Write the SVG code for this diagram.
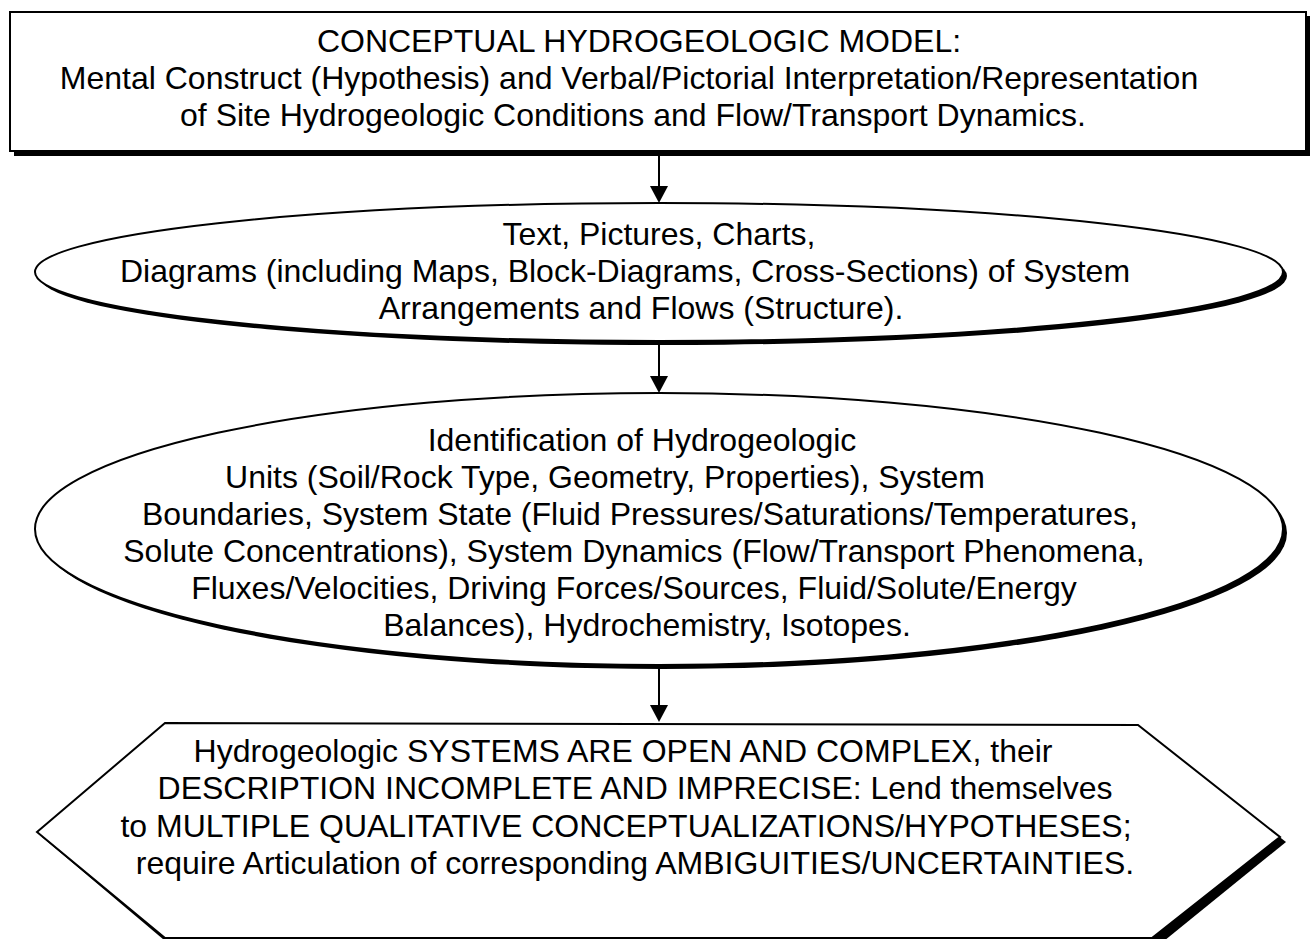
<svg xmlns="http://www.w3.org/2000/svg" width="1316" height="939" viewBox="0 0 1316 939">
<style>
.t{font-family:"Liberation Sans",Arial,sans-serif;font-size:32px;fill:#000;text-anchor:middle}
.sh{fill:#000;stroke:none}
.box{fill:#fff;stroke:#000;stroke-width:2}
.con{stroke:#000;stroke-width:2;fill:none}
.ah{fill:#000}
</style>
<g id="connectors">
<line class="con" x1="659" y1="153" x2="659" y2="187"/>
<path class="ah" d="M650,186 L668,186 L659,203 Z"/>
<line class="con" x1="659" y1="344" x2="659" y2="377"/>
<path class="ah" d="M650,376 L668,376 L659,393 Z"/>
<line class="con" x1="659" y1="667" x2="659" y2="706"/>
<path class="ah" d="M650,705 L668,705 L659,722 Z"/>
</g>
<g id="node-model">
<rect class="sh" x="14" y="16" width="1296" height="140"/>
<rect class="box" x="10" y="12" width="1296" height="139"/>
<text class="t" x="639" y="52">CONCEPTUAL HYDROGEOLOGIC MODEL:</text>
<text class="t" x="629" y="89">Mental Construct (Hypothesis) and Verbal/Pictorial Interpretation/Representation</text>
<text class="t" x="633" y="126">of Site Hydrogeologic Conditions and Flow/Transport Dynamics.</text>
</g>
<g id="node-representation">
<ellipse class="sh" cx="663" cy="276" rx="624" ry="69"/>
<ellipse class="box" cx="659" cy="272" rx="624" ry="69"/>
<text class="t" x="659" y="245">Text, Pictures, Charts,</text>
<text class="t" x="625" y="282">Diagrams (including Maps, Block-Diagrams, Cross-Sections) of System</text>
<text class="t" x="641" y="319">Arrangements and Flows (Structure).</text>
</g>
<g id="node-identification">
<ellipse class="sh" cx="663" cy="533" rx="624" ry="136"/>
<ellipse class="box" cx="659" cy="529" rx="624" ry="136"/>
<text class="t" x="642" y="451">Identification of Hydrogeologic</text>
<text class="t" x="605" y="488">Units (Soil/Rock Type, Geometry, Properties), System</text>
<text class="t" x="640" y="525">Boundaries, System State (Fluid Pressures/Saturations/Temperatures,</text>
<text class="t" x="634" y="562">Solute Concentrations), System Dynamics (Flow/Transport Phenomena,</text>
<text class="t" x="634" y="599">Fluxes/Velocities, Driving Forces/Sources, Fluid/Solute/Energy</text>
<text class="t" x="647" y="636">Balances), Hydrochemistry, Isotopes.</text>
</g>
<g id="node-systems">
<polygon class="sh" points="42,837 170,728 1143,730 1286,842 1159,945 170,945"/>
<polygon class="box" points="37,832 165,723 1138,725 1280,837 1152,938 165,938"/>
<text class="t" x="623" y="762">Hydrogeologic SYSTEMS ARE OPEN AND COMPLEX, their</text>
<text class="t" x="635" y="799">DESCRIPTION INCOMPLETE AND IMPRECISE: Lend themselves</text>
<text class="t" x="626" y="837">to MULTIPLE QUALITATIVE CONCEPTUALIZATIONS/HYPOTHESES;</text>
<text class="t" x="635" y="874">require Articulation of corresponding AMBIGUITIES/UNCERTAINTIES.</text>
</g>
</svg>
